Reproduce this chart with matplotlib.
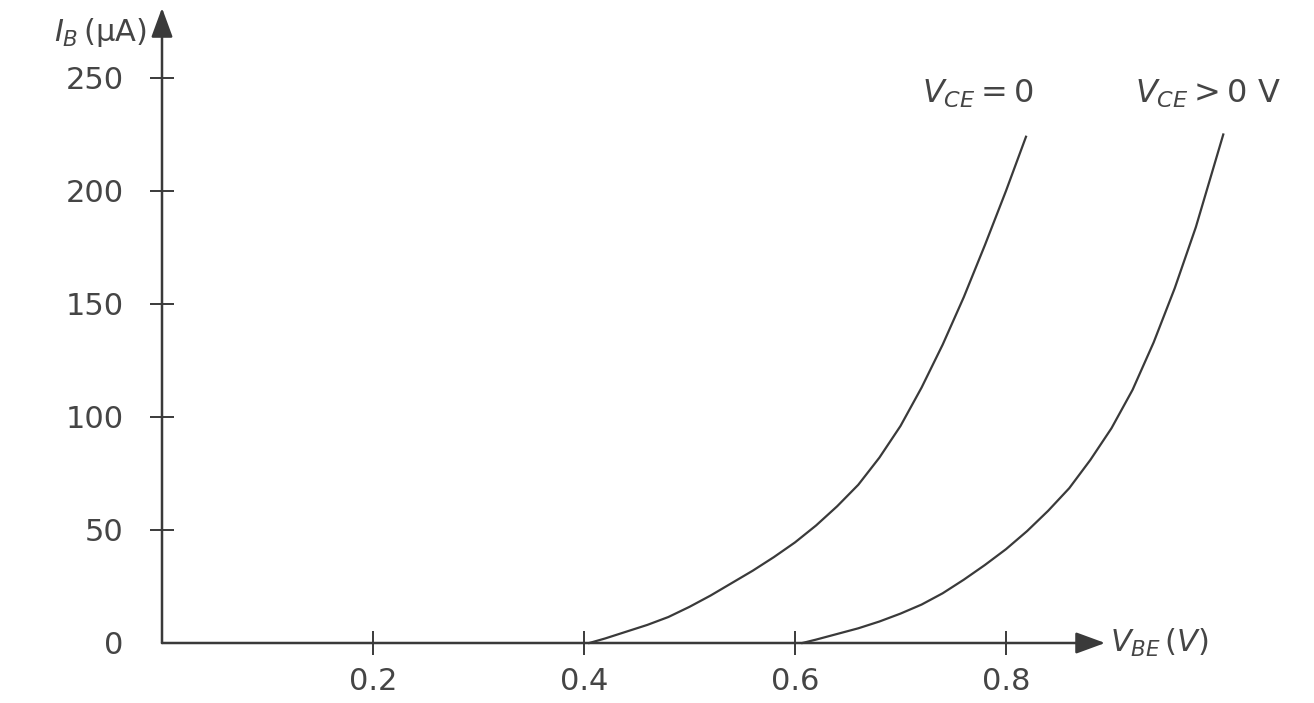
import matplotlib
matplotlib.use('Agg')
import matplotlib.pyplot as plt

plt.rcParams['font.family'] = ['DejaVu Sans']
plt.rcParams['mathtext.fontset'] = 'dejavusans'

# curves: I_B (uA) against V_BE (V)
vce0_v = [0.405, 0.42, 0.44, 0.46, 0.48, 0.50, 0.52, 0.54, 0.56, 0.58, 0.60,
          0.62, 0.64, 0.66, 0.68, 0.70, 0.72, 0.74, 0.76, 0.78, 0.80, 0.819]
vce0_ib = [0, 2, 5, 8, 11.5, 16, 21, 26.5, 32, 38, 44.5,
           52, 60.5, 70, 82, 96, 113, 132, 153, 176, 200, 224]

vcepos_v = [0.607, 0.62, 0.64, 0.66, 0.68, 0.70, 0.72, 0.74, 0.76, 0.78, 0.80,
            0.82, 0.84, 0.86, 0.88, 0.90, 0.92, 0.94, 0.96, 0.98, 1.006]
vcepos_ib = [0, 1.5, 4, 6.5, 9.5, 13, 17, 22, 28, 34.5, 41.5,
             49.5, 58.5, 68.5, 81, 95, 112, 133, 157, 184, 225]

x_ticks = [0.2, 0.4, 0.6, 0.8]
x_ticklabels = ['0.2', '0.4', '0.6', '0.8']
y_ticks = [0, 50, 100, 150, 200, 250]
y_ticklabels = ['0', '50', '100', '150', '200', '250']

label_vce0 = r'$V_{CE} = 0$'
label_vcepos = r'$V_{CE} > 0$ V'

INK = '#3a3a3a'
TXT = '#454545'

fig = plt.figure(figsize=(13.14, 7.03), dpi=100)
fig.patch.set_facecolor('white')
ax = fig.add_axes([162 / 1314, 60 / 703, 1 - 162 / 1314, 643 / 703])
ax.set_xlim(0, 1.092)
ax.set_ylim(0, 284.5)
ax.set_facecolor('none')

for s in ax.spines.values():
    s.set_visible(False)

# axes with arrow heads
arrow = dict(arrowstyle='-|>,head_length=0.6,head_width=0.22', color=INK,
             lw=1.8, shrinkA=0, shrinkB=0, mutation_scale=30)
ax.annotate('', xy=(0.894, 0), xytext=(0, 0), arrowprops=arrow, annotation_clip=False)
ax.annotate('', xy=(0, 281), xytext=(0, 0), arrowprops=arrow, annotation_clip=False)

ax.plot(vce0_v, vce0_ib, color=INK, lw=1.6, clip_on=False, solid_joinstyle='round')
ax.plot(vcepos_v, vcepos_ib, color=INK, lw=1.6, clip_on=False, solid_joinstyle='round')

ax.set_xticks(x_ticks)
ax.set_xticklabels(x_ticklabels)
ax.set_yticks(y_ticks)
ax.set_yticklabels(y_ticklabels)
ax.tick_params(axis='both', direction='inout', length=17, width=1.4, color=INK,
               labelsize=22, labelcolor=TXT)
ax.tick_params(axis='x', pad=9)
ax.tick_params(axis='y', pad=19)
ax.yaxis.get_major_ticks()[0].tick1line.set_visible(False)

ax.text(-0.014, 270, r'$I_B\,$(μA)', ha='right', va='center', fontsize=22,
        color=TXT, clip_on=False)
ax.text(0.899, 0, r'$V_{BE}\,(V)$', ha='left', va='center', fontsize=22,
        color=TXT, clip_on=False)

ax.text(0.72, 243, label_vce0, ha='left', va='center', fontsize=23, color=TXT)
ax.text(0.922, 243, label_vcepos, ha='left', va='center', fontsize=23,
        color=TXT, clip_on=False)

fig.savefig('out.png', dpi=100)
